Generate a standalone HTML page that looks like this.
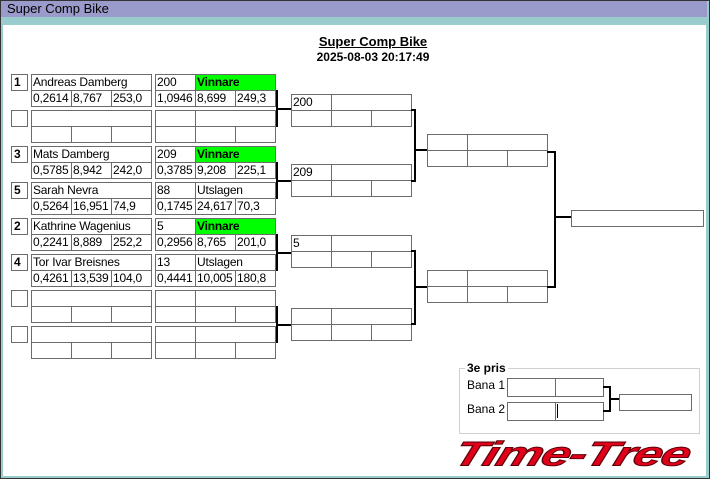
<!DOCTYPE html>
<html><head><meta charset="utf-8"><style>
*{margin:0;padding:0;box-sizing:border-box}
body{width:710px;height:479px;position:relative;overflow:hidden;background:#99cccc;font-family:"Liberation Sans",sans-serif;font-size:12px;color:#000}
.frame{position:absolute;left:0;top:0;width:710px;height:479px;border:1px solid #333}
.tb{position:absolute;left:1px;top:1px;width:706px;height:16px;background:#9a9acb;font-size:13px;line-height:16px;padding-left:6px}
.cont{position:absolute;left:3px;top:25px;width:703px;height:451px;background:#fff}
.b{position:absolute;border:1px solid #6b6b6b;height:17px;line-height:15px;padding-left:1px;white-space:nowrap;overflow:hidden;letter-spacing:-0.2px}
.s{font-weight:bold;width:17px;padding-left:2px}
.g{background:#00ff00;font-weight:bold}
.l{position:absolute;background:#000}
</style></head><body>
<div class="frame"></div>
<div class="tb">Super Comp Bike</div>
<div class="cont"></div>
<div style="position:absolute;left:300px;top:35px;width:146px;text-align:center;font-weight:bold;font-size:13px;line-height:14px;text-decoration:underline">Super Comp Bike</div>
<div style="position:absolute;left:290px;top:50px;width:166px;text-align:center;font-weight:bold;font-size:12px;line-height:14px">2025-08-03 20:17:49</div>

<div class="b s" style="left:11px;top:74px">1</div>
<div class="b" style="left:31px;top:74px;width:121px">Andreas Damberg</div>
<div class="b" style="left:31px;top:90px;width:41px">0,2614</div><div class="b" style="left:71px;top:90px;width:41px">8,767</div><div class="b" style="left:111px;top:90px;width:41px">253,0</div>
<div class="b" style="left:155px;top:74px;width:41px">200</div><div class="b g" style="left:195px;top:74px;width:81px">Vinnare</div>
<div class="b" style="left:155px;top:90px;width:41px">1,0946</div><div class="b" style="left:195px;top:90px;width:41px">8,699</div><div class="b" style="left:235px;top:90px;width:41px">249,3</div>

<div class="b s" style="left:11px;top:110px"></div>
<div class="b" style="left:31px;top:110px;width:121px"></div>
<div class="b" style="left:31px;top:126px;width:41px"></div><div class="b" style="left:71px;top:126px;width:41px"></div><div class="b" style="left:111px;top:126px;width:41px"></div>
<div class="b" style="left:155px;top:110px;width:41px"></div><div class="b" style="left:195px;top:110px;width:81px"></div>
<div class="b" style="left:155px;top:126px;width:41px"></div><div class="b" style="left:195px;top:126px;width:41px"></div><div class="b" style="left:235px;top:126px;width:41px"></div>

<div class="b s" style="left:11px;top:146px">3</div>
<div class="b" style="left:31px;top:146px;width:121px">Mats Damberg</div>
<div class="b" style="left:31px;top:162px;width:41px">0,5785</div><div class="b" style="left:71px;top:162px;width:41px">8,942</div><div class="b" style="left:111px;top:162px;width:41px">242,0</div>
<div class="b" style="left:155px;top:146px;width:41px">209</div><div class="b g" style="left:195px;top:146px;width:81px">Vinnare</div>
<div class="b" style="left:155px;top:162px;width:41px">0,3785</div><div class="b" style="left:195px;top:162px;width:41px">9,208</div><div class="b" style="left:235px;top:162px;width:41px">225,1</div>

<div class="b s" style="left:11px;top:182px">5</div>
<div class="b" style="left:31px;top:182px;width:121px">Sarah Nevra</div>
<div class="b" style="left:31px;top:198px;width:41px">0,5264</div><div class="b" style="left:71px;top:198px;width:41px">16,951</div><div class="b" style="left:111px;top:198px;width:41px">74,9</div>
<div class="b" style="left:155px;top:182px;width:41px">88</div><div class="b" style="left:195px;top:182px;width:81px">Utslagen</div>
<div class="b" style="left:155px;top:198px;width:41px">0,1745</div><div class="b" style="left:195px;top:198px;width:41px">24,617</div><div class="b" style="left:235px;top:198px;width:41px">70,3</div>

<div class="b s" style="left:11px;top:218px">2</div>
<div class="b" style="left:31px;top:218px;width:121px">Kathrine Wagenius</div>
<div class="b" style="left:31px;top:234px;width:41px">0,2241</div><div class="b" style="left:71px;top:234px;width:41px">8,889</div><div class="b" style="left:111px;top:234px;width:41px">252,2</div>
<div class="b" style="left:155px;top:218px;width:41px">5</div><div class="b g" style="left:195px;top:218px;width:81px">Vinnare</div>
<div class="b" style="left:155px;top:234px;width:41px">0,2956</div><div class="b" style="left:195px;top:234px;width:41px">8,765</div><div class="b" style="left:235px;top:234px;width:41px">201,0</div>

<div class="b s" style="left:11px;top:254px">4</div>
<div class="b" style="left:31px;top:254px;width:121px">Tor Ivar Breisnes</div>
<div class="b" style="left:31px;top:270px;width:41px">0,4261</div><div class="b" style="left:71px;top:270px;width:41px">13,539</div><div class="b" style="left:111px;top:270px;width:41px">104,0</div>
<div class="b" style="left:155px;top:254px;width:41px">13</div><div class="b" style="left:195px;top:254px;width:81px">Utslagen</div>
<div class="b" style="left:155px;top:270px;width:41px">0,4441</div><div class="b" style="left:195px;top:270px;width:41px">10,005</div><div class="b" style="left:235px;top:270px;width:41px">180,8</div>

<div class="b s" style="left:11px;top:290px"></div>
<div class="b" style="left:31px;top:290px;width:121px"></div>
<div class="b" style="left:31px;top:306px;width:41px"></div><div class="b" style="left:71px;top:306px;width:41px"></div><div class="b" style="left:111px;top:306px;width:41px"></div>
<div class="b" style="left:155px;top:290px;width:41px"></div><div class="b" style="left:195px;top:290px;width:81px"></div>
<div class="b" style="left:155px;top:306px;width:41px"></div><div class="b" style="left:195px;top:306px;width:41px"></div><div class="b" style="left:235px;top:306px;width:41px"></div>

<div class="b s" style="left:11px;top:326px"></div>
<div class="b" style="left:31px;top:326px;width:121px"></div>
<div class="b" style="left:31px;top:342px;width:41px"></div><div class="b" style="left:71px;top:342px;width:41px"></div><div class="b" style="left:111px;top:342px;width:41px"></div>
<div class="b" style="left:155px;top:326px;width:41px"></div><div class="b" style="left:195px;top:326px;width:81px"></div>
<div class="b" style="left:155px;top:342px;width:41px"></div><div class="b" style="left:195px;top:342px;width:41px"></div><div class="b" style="left:235px;top:342px;width:41px"></div>

<div class="l" style="left:276px;top:90px;width:2px;height:37px"></div><div class="l" style="left:276px;top:108px;width:15px;height:2px"></div>
<div class="l" style="left:276px;top:162px;width:2px;height:37px"></div><div class="l" style="left:276px;top:180px;width:15px;height:2px"></div>
<div class="l" style="left:276px;top:234px;width:2px;height:37px"></div><div class="l" style="left:276px;top:252px;width:15px;height:2px"></div>
<div class="l" style="left:276px;top:306px;width:2px;height:37px"></div><div class="l" style="left:276px;top:324px;width:15px;height:2px"></div>

<div class="b" style="left:291px;top:94px;width:41px">200</div><div class="b" style="left:331px;top:94px;width:81px"></div>
<div class="b" style="left:291px;top:110px;width:41px"></div><div class="b" style="left:331px;top:110px;width:41px"></div><div class="b" style="left:371px;top:110px;width:41px"></div>
<div class="b" style="left:291px;top:164px;width:41px">209</div><div class="b" style="left:331px;top:164px;width:81px"></div>
<div class="b" style="left:291px;top:180px;width:41px"></div><div class="b" style="left:331px;top:180px;width:41px"></div><div class="b" style="left:371px;top:180px;width:41px"></div>
<div class="b" style="left:291px;top:235px;width:41px">5</div><div class="b" style="left:331px;top:235px;width:81px"></div>
<div class="b" style="left:291px;top:251px;width:41px"></div><div class="b" style="left:331px;top:251px;width:41px"></div><div class="b" style="left:371px;top:251px;width:41px"></div>
<div class="b" style="left:291px;top:308px;width:41px"></div><div class="b" style="left:331px;top:308px;width:81px"></div>
<div class="b" style="left:291px;top:324px;width:41px"></div><div class="b" style="left:331px;top:324px;width:41px"></div><div class="b" style="left:371px;top:324px;width:41px"></div>

<div class="l" style="left:411px;top:109px;width:5px;height:2px"></div><div class="l" style="left:411px;top:180px;width:5px;height:2px"></div>
<div class="l" style="left:414px;top:109px;width:2px;height:73px"></div><div class="l" style="left:414px;top:149px;width:13px;height:2px"></div>
<div class="l" style="left:411px;top:250px;width:5px;height:2px"></div><div class="l" style="left:411px;top:323px;width:5px;height:2px"></div>
<div class="l" style="left:414px;top:250px;width:2px;height:75px"></div><div class="l" style="left:414px;top:286px;width:13px;height:2px"></div>

<div class="b" style="left:427px;top:134px;width:41px"></div><div class="b" style="left:467px;top:134px;width:81px"></div>
<div class="b" style="left:427px;top:150px;width:41px"></div><div class="b" style="left:467px;top:150px;width:41px"></div><div class="b" style="left:507px;top:150px;width:41px"></div>
<div class="b" style="left:427px;top:270px;width:41px"></div><div class="b" style="left:467px;top:270px;width:81px"></div>
<div class="b" style="left:427px;top:286px;width:41px"></div><div class="b" style="left:467px;top:286px;width:41px"></div><div class="b" style="left:507px;top:286px;width:41px"></div>

<div class="l" style="left:547px;top:151px;width:9px;height:2px"></div><div class="l" style="left:547px;top:286px;width:9px;height:2px"></div>
<div class="l" style="left:554px;top:151px;width:2px;height:137px"></div><div class="l" style="left:554px;top:216px;width:17px;height:2px"></div>
<div class="b" style="left:571px;top:210px;width:133px"></div>

<div style="position:absolute;left:459px;top:368px;width:241px;height:66px;border:1px solid #d0d0d0"></div>
<div style="position:absolute;left:465px;top:361px;padding:0 2px;background:#fff;font-weight:bold;font-size:12px;line-height:14px">3e pris</div>
<div style="position:absolute;left:467px;top:378px;line-height:14px">Bana 1</div>
<div style="position:absolute;left:467px;top:402px;line-height:14px">Bana 2</div>
<div class="b" style="left:507px;top:378px;width:49px;height:19px"></div><div class="b" style="left:555px;top:378px;width:49px;height:19px"></div>
<div class="b" style="left:507px;top:402px;width:49px;height:19px"></div><div class="b" style="left:555px;top:402px;width:49px;height:19px"></div>
<div class="l" style="left:557px;top:404px;width:1px;height:14px"></div>
<div class="l" style="left:603px;top:386px;width:7px;height:2px"></div><div class="l" style="left:603px;top:410px;width:7px;height:2px"></div>
<div class="l" style="left:609px;top:386px;width:2px;height:26px"></div><div class="l" style="left:609px;top:398px;width:10px;height:2px"></div>
<div class="b" style="left:619px;top:394px;width:73px"></div>

<div style="position:absolute;left:455px;top:436px;height:36px;font-weight:bold;font-style:italic;font-size:36px;line-height:36px;color:#e0001a;letter-spacing:-1px;transform:skewX(-18deg) scale(1.45,0.95);transform-origin:left center;-webkit-text-stroke:1px #5a0008;white-space:nowrap">Time-Tree</div>
</body></html>
